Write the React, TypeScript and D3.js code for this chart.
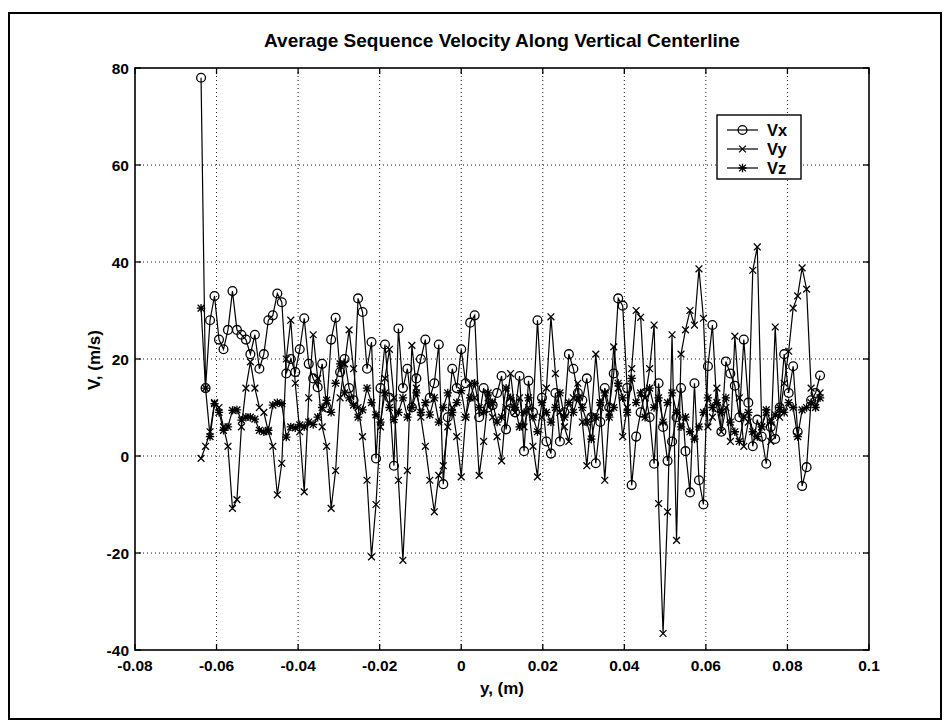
import React from "react";
import * as d3 from "d3";

// sample positions along the centerline, in mm
const POS_MM = [
  -63.8, -62.7, -61.6, -60.5, -59.4, -58.3, -57.2, -56.1, -55.0, -53.9,
  -52.8, -51.7, -50.6, -49.5, -48.4, -47.3, -46.2, -45.1, -44.0, -42.9,
  -41.8, -40.7, -39.6, -38.5, -37.4, -36.3, -35.2, -34.1, -33.0, -31.9,
  -30.8, -29.7, -28.6, -27.5, -26.4, -25.3, -24.2, -23.1, -22.0, -20.9,
  -19.8, -18.7, -17.6, -16.5, -15.4, -14.3, -13.2, -12.1, -11.0, -9.9,
  -8.8, -7.7, -6.6, -5.5, -4.4, -3.3, -2.2, -1.1, 0.0, 1.1,
  2.2, 3.3, 4.4, 5.5, 6.6, 7.7, 8.8, 9.9, 11.0, 12.1,
  13.2, 14.3, 15.4, 16.5, 17.6, 18.7, 19.8, 20.9, 22.0, 23.1,
  24.2, 25.3, 26.4, 27.5, 28.6, 29.7, 30.8, 31.9, 33.0, 34.1,
  35.2, 36.3, 37.4, 38.5, 39.6, 40.7, 41.8, 42.9, 44.0, 45.1,
  46.2, 47.3, 48.4, 49.5, 50.6, 51.7, 52.8, 53.9, 55.0, 56.1,
  57.2, 58.3, 59.4, 60.5, 61.6, 62.7, 63.8, 64.9, 66.0, 67.1,
  68.2, 69.3, 70.4, 71.5, 72.6, 73.7, 74.8, 75.9, 77.0, 78.1,
  79.2, 80.3, 81.4, 82.5, 83.6, 84.7, 85.8, 86.9, 88.0,
];

const VX = [
  78, 14, 28, 33, 24, 22, 26, 34, 26, 25,
  24, 21, 25, 18, 21, 28, 29, 33.5, 31.7, 17,
  20, 17.3, 22, 28.4, 19, 16, 14.2, 19, 10, 24,
  28.5, 17.3, 20, 14, 11.5, 32.5, 29.7, 18, 23.5, -0.5,
  14, 23, 12, -2, 26.3, 14, 18, 10, 16, 20,
  24, 12, 15, 23, -5.8, 8, 18, 14, 22, 15,
  27.5, 29, 8, 14, 10, 10.5, 13, 16.5, 5.5, 11,
  9, 16.5, 1, 15.5, 9, 28, 12, 3, 0.5, 13,
  3, 9, 21, 18, 13, 11.5, 16, 8, -1.5, 7,
  14, 10, 17, 32.5, 31, 14, -6, 4, 9, 13,
  8, -1.6, 15, 6, -1, 3, 8, 14, 1, -7.5,
  15, -5, -10, 18.5, 27, 10, 5, 19.5, 17, 14.5,
  8, 24, 11, 2, 7.5, 4, -1.6, 6, 3.5, 10,
  21, 13, 18.5, 5, -6.2, -2.3, 11.5, 13, 16.6,
];

const VY = [
  -0.5, 2, 5, 11, 10, 6, 2, -10.8, -9, 6,
  14, 19.4, 14, 10, 9, 5, 2, -8, -1.5, 20,
  28, 15, 5, -7.4, 12, 25, 16, 6, 2, -10.8,
  -3, 12, 19, 26, 18, 10, 4, -5, -20.8, -10,
  6, 16, 22, 12, -5, -21.5, -3, 22.8, 14, 8,
  2, -5, -11.5, -4, -2, 6, 10, 4, -4.3, 8,
  15, 12, -4, 3, 12, 8, 4, -1, 10, 17,
  9, 12, 6, 10, 2, -4.3, 8, 14, 28.7, 17,
  9, 6, 3, 12, 15, 7, -2, 8, 21, 10,
  -5, 9, 22.5, 14, 4, 10, 18, 30, 28.6, 12,
  18, 27, -9.8, -36.6, -11.5, 25, -17.4, 21, 26, 30,
  27, 38.6, 28.4, 6, 8, 14, 5, 10, 3, 24.7,
  12, 2, 7, 38.3, 43.1, 6, 9, 3, 26.6, 8,
  15, 21.6, 30.5, 33, 38.8, 34.4, 14, 10, 13,
];

const VZ = [
  30.5, 14, 4, 10.8, 9, 5.3, 6, 9.4, 9.5, 7.4,
  8, 8, 7.6, 5.3, 5, 5.3, 10.5, 11, 10.8, 3.9,
  6, 5.8, 6.4, 6, 7, 6.5, 8, 10, 11.5, 9,
  15, 19, 13, 12, 10.5, 8, 9.5, 14, 11, 8.5,
  7, 13, 10, 7.5, 9, 12, 8, 10, 13, 9,
  11, 8.5, 12, 7, 10, 13, 9, 11, 13.5, 8,
  12, 15, 10, 9, 13, 11, 7, 8, 14, 12,
  10, 6, 9, 12, 8, 5, 11, 9, 7, 10,
  13, 8, 11, 9, 12, 10, 7, 3.5, 8, 11,
  13, 8, 10, 15, 12, 9, 16, 11, 13, 8,
  14, 10, 12, 7, 11, 13, 9, 6, 8, 5,
  3.5, 6, 9, 12, 10, 11, 9, 12, 7, 5,
  3, 8, 9, 5, 4, 6, 9.5, 7, 8.5, 10,
  9, 11, 10, 4, 9.5, 10, 11, 10, 12,
];

const SERIES_NAMES = ["Vx", "Vy", "Vz"];
const X_TICKS = [-0.08, -0.06, -0.04, -0.02, 0, 0.02, 0.04, 0.06, 0.08, 0.1];
const X_TICK_LABELS = ["-0.08", "-0.06", "-0.04", "-0.02", "0", "0.02", "0.04", "0.06", "0.08", "0.1"];
const Y_TICKS = [-40, -20, 0, 20, 40, 60, 80];
const Y_TICK_LABELS = ["-40", "-20", "0", "20", "40", "60", "80"];
const TITLE = "Average Sequence Velocity Along Vertical Centerline";
const X_LABEL = "y, (m)";
const Y_LABEL = "V, (m/s)";

const FONT = "'Liberation Sans', Arial, Helvetica, sans-serif";

function Marker({ kind, cx, cy }: { kind: string; cx: number; cy: number }) {
  if (kind === "o") {
    return <circle cx={cx} cy={cy} r={4.4} fill="none" stroke="#000" strokeWidth={1.3} />;
  }
  const s = 3.4;
  if (kind === "x") {
    return (
      <path
        d={`M${cx - s},${cy - s}L${cx + s},${cy + s}M${cx - s},${cy + s}L${cx + s},${cy - s}`}
        stroke="#000"
        strokeWidth={1.3}
      />
    );
  }
  return (
    <path
      d={`M${cx - s},${cy - s}L${cx + s},${cy + s}M${cx - s},${cy + s}L${cx + s},${cy - s}M${cx},${cy - s - 0.8}L${cx},${cy + s + 0.8}M${cx - s - 0.8},${cy}L${cx + s + 0.8},${cy}`}
      stroke="#000"
      strokeWidth={1.3}
    />
  );
}

export default function App() {
  const W = 948;
  const H = 726;
  const L = 135, R = 869, T = 68, B = 650;
  const x = d3.scaleLinear().domain([-0.08, 0.1]).range([L, R]);
  const y = d3.scaleLinear().domain([-40, 80]).range([B, T]);

  const seriesData = [VX, VY, VZ].map((vals) =>
    vals.map((v, i) => ({ px: x(POS_MM[i] / 1000), py: y(v) }))
  );
  const kinds = ["o", "x", "*"];
  const line = d3
    .line<{ px: number; py: number }>()
    .x((d) => d.px)
    .y((d) => d.py);

  const tickLen = 6;

  return (
    <svg
      width={W}
      height={H}
      viewBox={`0 0 ${W} ${H}`}
      style={{ position: "absolute", left: 0, top: 0, background: "#fff" }}
    >
      <rect x={0} y={0} width={W} height={H} fill="#fff" />
      {/* outer frame */}
      <rect x={9} y={13} width={932} height={706} fill="none" stroke="#000" strokeWidth={2} />

      {/* grid */}
      {X_TICKS.slice(1, -1).map((t) => (
        <line key={"gx" + t} x1={x(t)} x2={x(t)} y1={T} y2={B} stroke="#000" strokeWidth={0.9} strokeDasharray="1,3" />
      ))}
      {Y_TICKS.slice(1, -1).map((t) => (
        <line key={"gy" + t} x1={L} x2={R} y1={y(t)} y2={y(t)} stroke="#000" strokeWidth={0.9} strokeDasharray="1,3" />
      ))}

      {/* ticks */}
      {X_TICKS.map((t) => (
        <g key={"tx" + t}>
          <line x1={x(t)} x2={x(t)} y1={B} y2={B - tickLen} stroke="#000" strokeWidth={1.3} />
          <line x1={x(t)} x2={x(t)} y1={T} y2={T + tickLen} stroke="#000" strokeWidth={1.3} />
        </g>
      ))}
      {Y_TICKS.map((t) => (
        <g key={"ty" + t}>
          <line x1={L} x2={L + tickLen} y1={y(t)} y2={y(t)} stroke="#000" strokeWidth={1.3} />
          <line x1={R} x2={R - tickLen} y1={y(t)} y2={y(t)} stroke="#000" strokeWidth={1.3} />
        </g>
      ))}

      {/* axes box */}
      <rect x={L} y={T} width={R - L} height={B - T} fill="none" stroke="#000" strokeWidth={1.6} />

      {/* tick labels */}
      {X_TICKS.map((t, i) => (
        <text key={"lx" + t} x={x(t)} y={B + 21} textAnchor="middle" fontFamily={FONT} fontSize={15.5} fontWeight="bold">
          {X_TICK_LABELS[i]}
        </text>
      ))}
      {Y_TICKS.map((t, i) => (
        <text key={"ly" + t} x={L - 6} y={y(t) + 5.5} textAnchor="end" fontFamily={FONT} fontSize={15.5} fontWeight="bold">
          {Y_TICK_LABELS[i]}
        </text>
      ))}

      {/* series */}
      {seriesData.map((pts, si) => (
        <g key={"s" + si}>
          <path d={line(pts) || ""} fill="none" stroke="#000" strokeWidth={1.2} />
          {pts.map((p, i) => (
            <Marker key={i} kind={kinds[si]} cx={p.px} cy={p.py} />
          ))}
        </g>
      ))}

      {/* legend */}
      <g>
        <rect x={717} y={115} width={84} height={64} fill="#fff" stroke="#000" strokeWidth={1.4} />
        {SERIES_NAMES.map((name, i) => {
          const ly = 130 + i * 19;
          return (
            <g key={name}>
              <line x1={727} x2={758} y1={ly} y2={ly} stroke="#000" strokeWidth={1.2} />
              <Marker kind={kinds[i]} cx={742.5} cy={ly} />
              <text x={767} y={ly + 6} fontFamily={FONT} fontSize={16.5} fontWeight="bold">
                {name}
              </text>
            </g>
          );
        })}
      </g>

      {/* title & labels */}
      <text x={(L + R) / 2} y={47} textAnchor="middle" fontFamily={FONT} fontSize={19} fontWeight="bold">
        {TITLE}
      </text>
      <text x={(L + R) / 2} y={694} textAnchor="middle" fontFamily={FONT} fontSize={17} fontWeight="bold">
        {X_LABEL}
      </text>
      <text
        x={0}
        y={0}
        transform={`translate(100,360) rotate(-90)`}
        textAnchor="middle"
        fontFamily={FONT}
        fontSize={17}
        fontWeight="bold"
      >
        {Y_LABEL}
      </text>
    </svg>
  );
}
